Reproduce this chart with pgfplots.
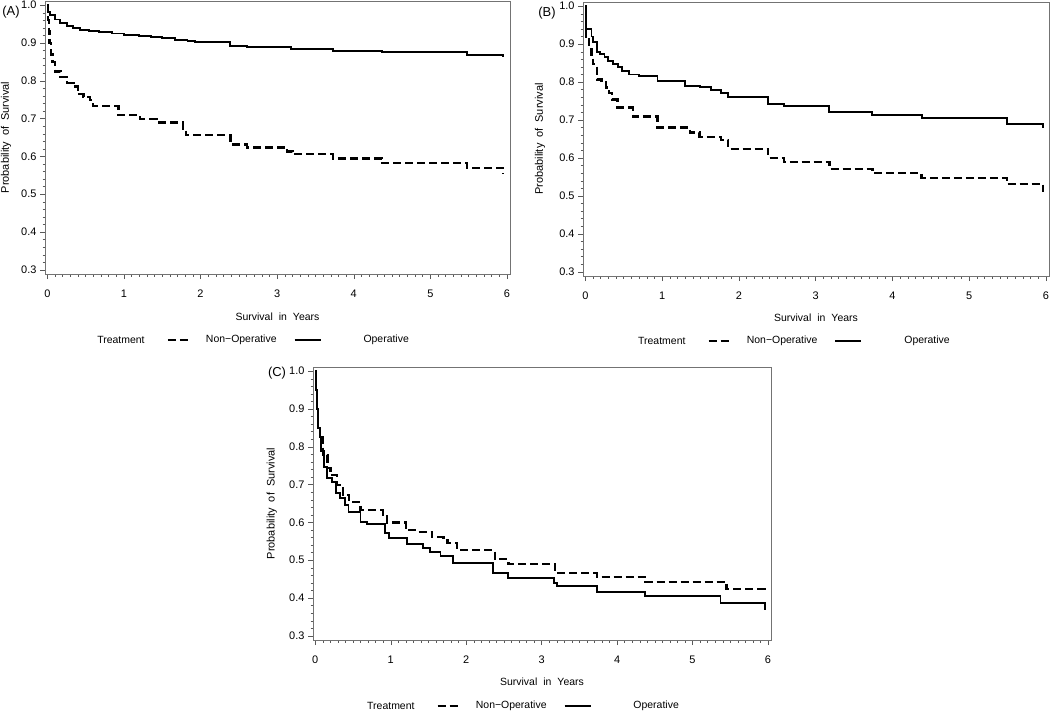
\documentclass[border=0pt]{standalone}
\usepackage{fontspec}
\setmainfont{Liberation Sans}
\usepackage{pgfplots}
\pgfplotsset{compat=1.18}

\newcommand{\ws}{\hspace{6bp}}
\pgfplotsset{
  km/.style={
    scale only axis,
    xmin=-0.03, xmax=6.04,
    ymin=0.289, ymax=1.011,
    xtick={0,...,6}, ytick={0.3,0.4,...,1.0},
    minor x tick num=9, minor y tick num=4,
    tick align=outside, tick pos=left,
    major tick length=5bp, minor tick length=2.5bp,
    axis line style={black!55},
    every tick/.style={black!65},
    font=\fontsize{10.5}{12}\selectfont,
    ticklabel style={font=\fontsize{11}{12}\selectfont},
    xticklabel style={yshift=-7bp},
    /pgf/number format/assume math mode=true,
    yticklabel style={/pgf/number format/fixed,
      /pgf/number format/fixed zerofill, /pgf/number format/precision=1},
    xlabel={Survival\ws in\ws Years},
    ylabel={Probability\ws of\ws Survival},
    ylabel style={font=\fontsize{11}{12}\selectfont},
    legend columns=3,
    legend style={draw=none, fill=none, inner sep=0pt,
      nodes={inner sep=0pt, text height=1.6ex, text depth=0.5ex}, cells={anchor=west},
      anchor=west, /tikz/column sep=0pt},
  },
  nonop/.style={black, line width=2.4bp, dash pattern=on 8bp off 4bp, const plot,
    legend image code/.code={\draw[##1] (0bp,0bp) -- (23bp,0bp);}},
  op/.style={black, line width=1.9bp, const plot,
    legend image code/.code={\draw[##1] (0bp,0bp) -- (26bp,0bp);}},
}
\newcommand{\treat}{\raisebox{-0.7bp}{Treatment}\hspace*{22bp}}

\begin{document}
\begin{tikzpicture}
\useasboundingbox (0,0) rectangle (1050bp,-713bp);

% (A)
\begin{axis}[km, width=465bp, height=273bp, at={(45bp,-274bp)}, anchor=south west,
  xlabel style={at={(axis description cs:0.5,-0.157)}, anchor=center},
  ylabel style={at={(axis description cs:-0.084,0.5)}, anchor=center},
  legend style={at={(axis description cs:0.112,-0.242)}}]
\addlegendimage{empty legend}
\addlegendentry{\treat}
\addplot[nonop] coordinates {
(0,1.0)(0.01,0.96)(0.02,0.93)(0.03,0.9)(0.05,0.87)(0.07,0.85)(0.1,0.825)
(0.17,0.81)(0.26,0.794)(0.34,0.785)(0.4,0.765)(0.47,0.757)(0.56,0.749)
(0.6,0.733)(0.93,0.709)(1.21,0.699)(1.43,0.69)(1.77,0.67)(1.81,0.656)
(2.39,0.632)(2.61,0.624)(3.13,0.613)(3.2,0.606)(3.73,0.595)(4.37,0.582)
(5.48,0.569)(5.95,0.555)};
\addlegendentry{\hspace*{14bp}Non−Operative\hspace*{17bp}}
\addplot[op] coordinates {
(0,1.0)(0.01,0.982)(0.04,0.974)(0.1,0.962)(0.17,0.953)(0.26,0.946)(0.34,0.94)
(0.43,0.935)(0.55,0.931)(0.68,0.928)(0.85,0.925)(1.0,0.921)(1.2,0.918)
(1.35,0.915)(1.5,0.912)(1.67,0.909)(1.83,0.905)(1.93,0.902)(2.39,0.892)
(2.61,0.889)(3.18,0.884)(3.73,0.878)(4.37,0.876)(5.48,0.868)(5.95,0.862)};
\addlegendentry{\hspace*{42bp}Operative}
\end{axis}

% (B)
\begin{axis}[km, width=466bp, height=274bp, at={(583bp,-276bp)}, anchor=south west,
  xlabel style={at={(axis description cs:0.5,-0.153)}, anchor=center},
  ylabel style={at={(axis description cs:-0.092,0.5)}, anchor=center},
  legend style={at={(axis description cs:0.118,-0.237)}}]
\addlegendimage{empty legend}
\addlegendentry{\treat}
\addplot[nonop] coordinates {
(0,1.0)(0.01,0.918)(0.05,0.886)(0.08,0.868)(0.1,0.847)(0.15,0.807)(0.21,0.8)
(0.27,0.786)(0.31,0.772)(0.35,0.754)(0.42,0.733)(0.62,0.709)(0.94,0.68)
(1.36,0.667)(1.49,0.656)(1.77,0.648)(1.86,0.624)(2.38,0.6)(2.59,0.59)
(3.18,0.571)(3.74,0.56)(4.38,0.548)(5.49,0.532)(5.96,0.51)};
\addlegendentry{\hspace*{14bp}Non−Operative\hspace*{17bp}}
\addplot[op] coordinates {
(0,1.0)(0.01,0.94)(0.08,0.92)(0.1,0.905)(0.15,0.88)(0.19,0.873)(0.25,0.865)
(0.29,0.855)(0.36,0.847)(0.42,0.839)(0.48,0.83)(0.57,0.82)(0.7,0.815)
(0.94,0.802)(1.3,0.79)(1.49,0.786)(1.64,0.78)(1.77,0.772)(1.86,0.76)
(2.38,0.743)(2.59,0.737)(3.18,0.722)(3.74,0.714)(4.38,0.706)(5.49,0.69)
(5.96,0.678)};
\addlegendentry{\hspace*{42bp}Operative}
\end{axis}

% (C)
\begin{axis}[km, width=458bp, height=273bp, at={(313bp,-640bp)}, anchor=south west,
  xlabel style={at={(axis description cs:0.5,-0.154)}, anchor=center},
  ylabel style={at={(axis description cs:-0.09,0.5)}, anchor=center},
  legend style={at={(axis description cs:0.118,-0.242)}}]
\addlegendimage{empty legend}
\addlegendentry{\treat}
\addplot[nonop] coordinates {
(0,1.0)(0.01,0.95)(0.02,0.9)(0.04,0.85)(0.06,0.826)(0.1,0.778)(0.16,0.744)
(0.2,0.725)(0.29,0.699)(0.37,0.672)(0.45,0.654)(0.6,0.633)(0.9,0.62)
(0.95,0.6)(1.2,0.58)(1.35,0.575)(1.55,0.561)(1.7,0.553)(1.75,0.545)
(1.88,0.527)(2.38,0.503)(2.56,0.49)(3.18,0.466)(3.73,0.456)(4.37,0.443)
(5.45,0.424)(5.96,0.413)};
\addlegendentry{\hspace*{14bp}Non−Operative\hspace*{17bp}}
\addplot[op] coordinates {
(0,1.0)(0.01,0.95)(0.02,0.9)(0.04,0.85)(0.06,0.826)(0.08,0.79)(0.11,0.746)
(0.15,0.717)(0.22,0.707)(0.28,0.677)(0.33,0.665)(0.4,0.646)(0.44,0.627)
(0.6,0.6)(0.69,0.596)(0.93,0.572)(0.98,0.559)(1.22,0.543)(1.43,0.532)
(1.52,0.522)(1.66,0.511)(1.82,0.493)(2.36,0.466)(2.56,0.453)(3.16,0.44)
(3.2,0.432)(3.73,0.416)(4.37,0.406)(5.37,0.387)(5.96,0.368)};
\addlegendentry{\hspace*{42bp}Operative}
\end{axis}

\node[font=\fontsize{13}{15}\selectfont] at (11bp,-12bp) {(A)};
\node[font=\fontsize{13}{15}\selectfont] at (547bp,-13bp) {(B)};
\node[font=\fontsize{13}{15}\selectfont] at (277bp,-373bp) {(C)};
\end{tikzpicture}
\end{document}
